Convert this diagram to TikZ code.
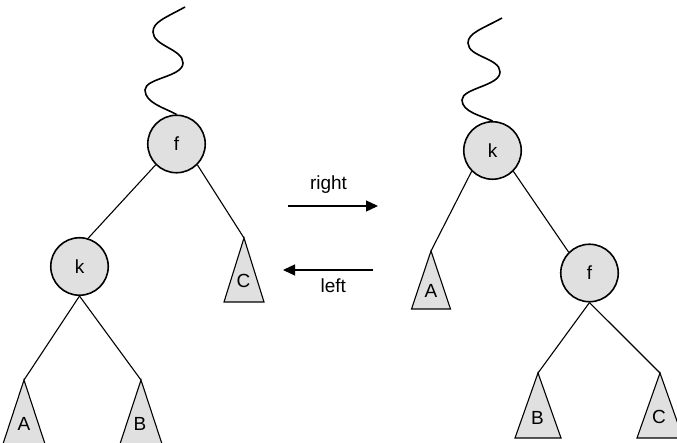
\documentclass[tikz,border=0pt]{standalone}
\usepackage{fontspec}
\setmainfont{Liberation Sans}
\usetikzlibrary{arrows.meta}
\definecolor{nodefill}{RGB}{224,224,224}
\begin{document}
\begin{tikzpicture}[x=1pt,y=-1pt,
  treenode/.style={circle,draw,line width=1.6pt,fill=nodefill,minimum size=57.5pt,inner sep=0pt,font=\fontsize{19}{19}\selectfont},
  subtree/.style={draw,line width=1.1pt,fill=nodefill,line join=miter},
  edge/.style={line width=1.1pt},
  wave/.style={line width=1.6pt},
  rot/.style={line width=1.3pt,-{Triangle[length=12pt,width=11pt]}},
  lbl/.style={font=\fontsize{19}{19}\selectfont,inner sep=0pt,anchor=base}]
\useasboundingbox (0,0) rectangle (677,443);
\clip (0,0) rectangle (677,443);
% ---------- left tree ----------
\coordinate (A1) at (24,380);
\coordinate (B1) at (141,380);
\coordinate (C1) at (244,238);
\path[subtree] (A1) -- ++(-21,64) -- ++(42,0) -- cycle;
\path[subtree] (B1) -- ++(-21,64) -- ++(42,0) -- cycle;
\path[subtree] (C1) -- ++(-20,64) -- ++(40,0) -- cycle;
\node[lbl] (la1) at (24,430) {A};
\node[lbl] (lb1) at (140,430) {B};
\node[lbl] (lc1) at (243.5,288) {C};
\node[treenode] (f1) at (176.5,144) {f};
\node[treenode] (k1) at (79.5,266.5) {k};
\draw[edge] (f1.225) -- (k1.73);
\draw[edge] (f1.315) -- (C1);
\draw[edge] (k1.south) -- (A1);
\draw[edge] (k1.south) -- (B1);
\coordinate (w1) at (185,7);
\draw[wave] (w1) .. controls (165,18) and (153,22) .. (153,32)
  .. controls (153,46) and (183,49) .. (183,63)
  .. controls (183,77) and (145,78) .. (145,90)
  .. controls (145,103) and (165,108) .. (f1.north);
% ---------- arrows ----------
\coordinate (r1) at (288,206);
\coordinate (r2) at (378,206);
\draw[rot] (r1) -- (r2);
\node[lbl] (rl) at (328.5,189.3) {right};
\coordinate (l1) at (373,270);
\coordinate (l2) at (283,270);
\draw[rot] (l1) -- (l2);
\node[lbl] (ll) at (333.3,292.3) {left};
% ---------- right tree ----------
\coordinate (A2) at (431,251);
\coordinate (B2) at (538,373);
\coordinate (C2) at (660,373);
\path[subtree] (A2) -- ++(-19.5,58) -- ++(39,0) -- cycle;
\path[subtree] (B2) -- ++(-23,65) -- ++(46,0) -- cycle;
\path[subtree] (C2) -- ++(-23,65) -- ++(46,0) -- cycle;
\node[lbl] (la2) at (431,298) {A};
\node[lbl] (lb2) at (537.5,424) {B};
\node[lbl] (lc2) at (659,423) {C};
\node[treenode] (k2) at (492.5,150.5) {k};
\node[treenode] (f2) at (589.5,273) {f};
\draw[edge] (k2.225) -- (A2);
\draw[edge] (k2.315) -- (f2.135);
\draw[edge] (f2.south) -- (B2);
\draw[edge] (f2.south) -- (C2);
\coordinate (w2) at (502,18);
\draw[wave] (w2) .. controls (482,29) and (468,33) .. (468,43)
  .. controls (468,57) and (500,58) .. (500,72)
  .. controls (500,86) and (462,88) .. (462,100)
  .. controls (462,112) and (482,116) .. (k2.north);
\end{tikzpicture}
\end{document}
